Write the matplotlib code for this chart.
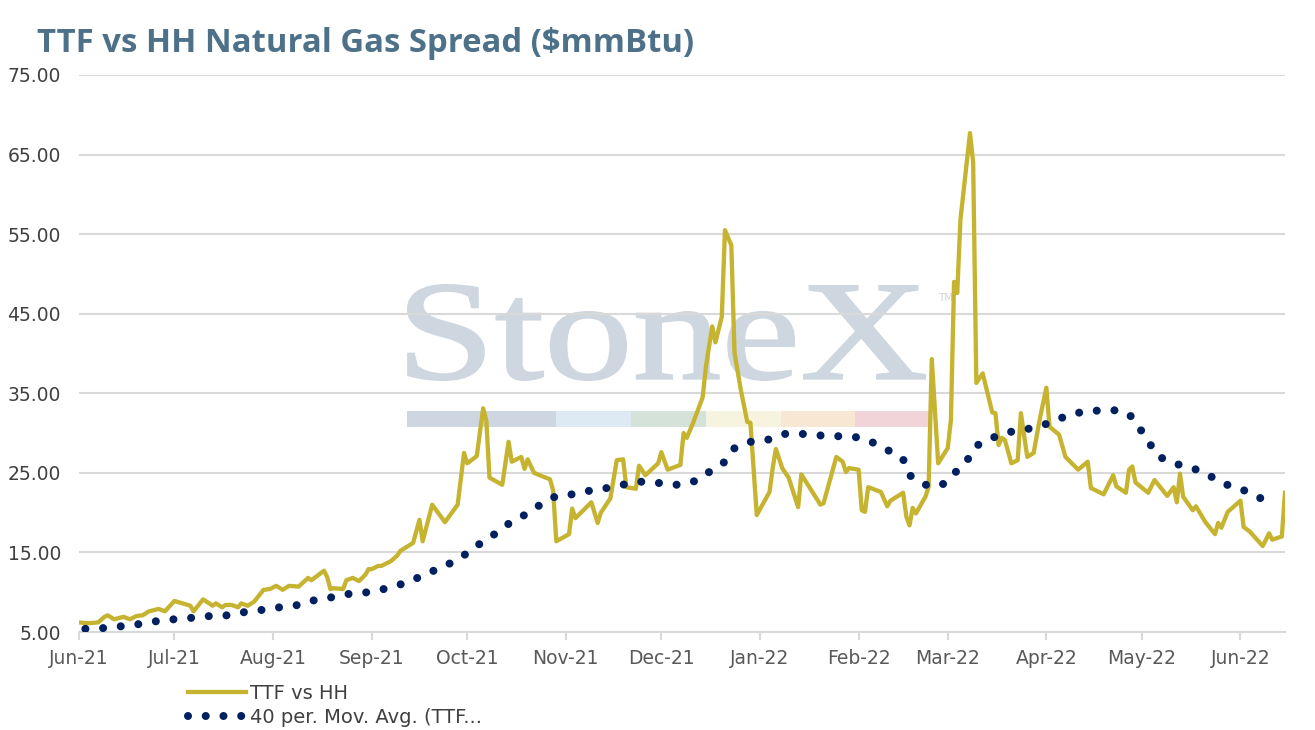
import numpy as np
import pandas as pd
import matplotlib
matplotlib.use("Agg")
import matplotlib.pyplot as plt
import matplotlib.dates as mdates
from matplotlib.textpath import TextPath
from matplotlib.patches import PathPatch, Rectangle
from matplotlib.font_manager import FontProperties
from matplotlib.transforms import Affine2D

# TTF vs HH spread
spread_dates = [
    "2021-06-01", "2021-06-04", "2021-06-07", "2021-06-09", "2021-06-10", "2021-06-12",
    "2021-06-15", "2021-06-17", "2021-06-19", "2021-06-21", "2021-06-23", "2021-06-26",
    "2021-06-28", "2021-07-01", "2021-07-06", "2021-07-07", "2021-07-10", "2021-07-13",
    "2021-07-14", "2021-07-16", "2021-07-17", "2021-07-19", "2021-07-21", "2021-07-22",
    "2021-07-24", "2021-07-26", "2021-07-29", "2021-07-31", "2021-08-02", "2021-08-04",
    "2021-08-06", "2021-08-09", "2021-08-12", "2021-08-13", "2021-08-17", "2021-08-18",
    "2021-08-19", "2021-08-20", "2021-08-23", "2021-08-24", "2021-08-26", "2021-08-28",
    "2021-08-30", "2021-08-31", "2021-09-01", "2021-09-03", "2021-09-04", "2021-09-07",
    "2021-09-09", "2021-09-10", "2021-09-14", "2021-09-16", "2021-09-17", "2021-09-20",
    "2021-09-24", "2021-09-28", "2021-09-30", "2021-10-01", "2021-10-04", "2021-10-06",
    "2021-10-07", "2021-10-08", "2021-10-12", "2021-10-14", "2021-10-15", "2021-10-18",
    "2021-10-19", "2021-10-20", "2021-10-22", "2021-10-25", "2021-10-27", "2021-10-28",
    "2021-10-29", "2021-11-02", "2021-11-03", "2021-11-04", "2021-11-09", "2021-11-11",
    "2021-11-12", "2021-11-15", "2021-11-17", "2021-11-19", "2021-11-20", "2021-11-23",
    "2021-11-24", "2021-11-26", "2021-11-30", "2021-12-01", "2021-12-03", "2021-12-07",
    "2021-12-08", "2021-12-09", "2021-12-11", "2021-12-14", "2021-12-15", "2021-12-17",
    "2021-12-18", "2021-12-20", "2021-12-21", "2021-12-23", "2021-12-24", "2021-12-26",
    "2021-12-28", "2021-12-29", "2021-12-31", "2022-01-04", "2022-01-05", "2022-01-06",
    "2022-01-08", "2022-01-10", "2022-01-13", "2022-01-14", "2022-01-20", "2022-01-21",
    "2022-01-25", "2022-01-27", "2022-01-28", "2022-01-29", "2022-02-01", "2022-02-02",
    "2022-02-03", "2022-02-04", "2022-02-08", "2022-02-10", "2022-02-11", "2022-02-15",
    "2022-02-16", "2022-02-17", "2022-02-18", "2022-02-19", "2022-02-22", "2022-02-23",
    "2022-02-24", "2022-02-26", "2022-03-01", "2022-03-02", "2022-03-03", "2022-03-04",
    "2022-03-05", "2022-03-08", "2022-03-09", "2022-03-10", "2022-03-12", "2022-03-15",
    "2022-03-16", "2022-03-17", "2022-03-18", "2022-03-19", "2022-03-21", "2022-03-23",
    "2022-03-24", "2022-03-26", "2022-03-28", "2022-03-30", "2022-04-01", "2022-04-02",
    "2022-04-05", "2022-04-07", "2022-04-11", "2022-04-14", "2022-04-15", "2022-04-19",
    "2022-04-22", "2022-04-23", "2022-04-26", "2022-04-27", "2022-04-28", "2022-04-29",
    "2022-05-03", "2022-05-05", "2022-05-09", "2022-05-11", "2022-05-12", "2022-05-13",
    "2022-05-14", "2022-05-17", "2022-05-18", "2022-05-21", "2022-05-24", "2022-05-25",
    "2022-05-26", "2022-05-28", "2022-06-01", "2022-06-02", "2022-06-04", "2022-06-06",
    "2022-06-08", "2022-06-10", "2022-06-11", "2022-06-14", "2022-06-15",
]
spread_values = [
    6.2, 6.1, 6.2, 6.9, 7.1, 6.6,
    6.9, 6.6, 7.0, 7.1, 7.6, 7.9,
    7.6, 8.9, 8.3, 7.6, 9.1, 8.3,
    8.6, 8.1, 8.4, 8.4, 8.1, 8.6,
    8.3, 8.8, 10.3, 10.4, 10.8, 10.3,
    10.8, 10.7, 11.8, 11.5, 12.7, 11.9,
    10.4, 10.5, 10.4, 11.5, 11.8, 11.4,
    12.2, 12.9, 12.9, 13.3, 13.3, 13.9,
    14.6, 15.2, 16.2, 19.1, 16.4, 21.0,
    18.8, 21.0, 27.5, 26.2, 27.1, 33.1,
    31.6, 24.4, 23.5, 28.9, 26.4, 27.0,
    25.5, 26.7, 25.0, 24.5, 24.2, 22.8,
    16.4, 17.3, 20.5, 19.3, 21.3, 18.7,
    20.0, 21.8, 26.6, 26.7, 23.2, 23.0,
    25.9, 24.7, 26.2, 27.6, 25.4, 26.0,
    30.0, 29.4, 31.3, 34.5, 38.3, 43.4,
    41.4, 44.6, 55.5, 53.6, 40.1, 35.4,
    31.4, 31.3, 19.7, 22.6, 25.6, 28.0,
    25.6, 24.4, 20.7, 24.8, 21.0, 21.2,
    27.0, 26.4, 25.1, 25.6, 25.4, 20.3,
    20.1, 23.2, 22.6, 20.8, 21.5, 22.5,
    19.5, 18.4, 20.6, 19.9, 22.0, 23.2,
    39.3, 26.2, 28.1, 31.6, 49.0, 47.6,
    56.8, 67.7, 64.0, 36.3, 37.5, 32.6,
    32.5, 28.5, 29.4, 29.1, 26.2, 26.6,
    32.5, 27.0, 27.5, 31.9, 35.7, 30.8,
    29.8, 27.0, 25.4, 26.4, 23.1, 22.3,
    24.7, 23.3, 22.5, 25.4, 25.8, 23.8,
    22.5, 24.1, 22.1, 23.2, 21.3, 24.9,
    22.0, 20.3, 20.8, 18.8, 17.3, 18.7,
    18.1, 20.1, 21.5, 18.2, 17.6, 16.7,
    15.8, 17.4, 16.6, 17.0, 22.5,
]

# 40 period moving average
ma_dates = [
    "2021-06-03", "2021-06-09", "2021-06-15", "2021-06-20", "2021-06-26", "2021-07-01",
    "2021-07-07", "2021-07-12", "2021-07-18", "2021-07-23", "2021-07-29", "2021-08-03",
    "2021-08-09", "2021-08-14", "2021-08-20", "2021-08-25", "2021-08-31", "2021-09-06",
    "2021-09-11", "2021-09-16", "2021-09-21", "2021-09-26", "2021-10-01", "2021-10-05",
    "2021-10-10", "2021-10-14", "2021-10-19", "2021-10-24", "2021-10-29", "2021-11-03",
    "2021-11-09", "2021-11-14", "2021-11-20", "2021-11-25", "2021-12-01", "2021-12-06",
    "2021-12-12", "2021-12-16", "2021-12-21", "2021-12-24", "2021-12-29", "2022-01-03",
    "2022-01-09", "2022-01-14", "2022-01-20", "2022-01-26", "2022-01-31", "2022-02-05",
    "2022-02-10", "2022-02-15", "2022-02-17", "2022-02-22", "2022-02-27", "2022-03-03",
    "2022-03-07", "2022-03-10", "2022-03-15", "2022-03-20", "2022-03-26", "2022-03-31",
    "2022-04-05", "2022-04-10", "2022-04-16", "2022-04-22", "2022-04-27", "2022-04-30",
    "2022-05-03", "2022-05-06", "2022-05-11", "2022-05-17", "2022-05-22", "2022-05-27",
    "2022-06-01", "2022-06-06", "2022-06-11",
]
ma_values = [
    5.4, 5.5, 5.75, 6.0, 6.4, 6.6,
    6.8, 7.0, 7.1, 7.5, 7.8, 8.1,
    8.4, 9.0, 9.4, 9.8, 10.0, 10.5,
    11.1, 11.9, 12.8, 13.7, 14.9, 16.1,
    17.4, 18.6, 19.7, 21.0, 22.1, 22.3,
    22.8, 23.1, 23.6, 23.9, 23.7, 23.5,
    24.0, 25.1, 26.4, 28.1, 28.9, 29.1,
    29.9, 29.9, 29.7, 29.6, 29.5, 28.9,
    27.9, 26.7, 24.7, 23.5, 23.4, 24.9,
    26.5, 28.4, 29.4, 30.1, 30.5, 31.0,
    31.8, 32.5, 32.8, 32.9, 32.4, 30.8,
    29.0, 27.1, 26.2, 25.6, 24.7, 23.6,
    23.0, 22.1, 21.0,
]

y_ticks = [5, 15, 25, 35, 45, 55, 65, 75]
title = "TTF vs HH Natural Gas Spread ($mmBtu)"

W, H = 1315, 730
fig = plt.figure(figsize=(W / 100, H / 100), dpi=100, facecolor="white")
ax = fig.add_axes([79 / W, 1 - 632 / H, (1285 - 79) / W, (632 - 75) / H])
ax.set_facecolor("none")

# StoneX watermark (text stretched into its box) + colour bar
fp = FontProperties(family="Liberation Serif")
tp = TextPath((0, 0), "StoneX", size=100, prop=fp)
ext = tp.get_extents()
x0, x1, ytop, ybot = 408, 925, 285, 380
tr = (Affine2D().translate(-ext.x0, -ext.y0)
      .scale((x1 - x0) / ext.width / W, (ybot - ytop) / ext.height / H)
      .translate(x0 / W, 1 - ybot / H) + fig.transFigure)
fig.patches.append(PathPatch(tp, transform=tr, facecolor="#CED6DF", edgecolor="#CED6DF",
                             lw=1.5, zorder=-5))
fig.text(938 / W, 1 - 298 / H, "TM", fontsize=7.5, color="#CED6DF", va="center", zorder=-5)
bar_edges = [407, 556, 631, 706, 781, 855, 931]
bar_colors = ["#CED7E1", "#DDE9F3", "#D5E2D9", "#F6F4DE", "#F8E7D3", "#F0D4D7"]
for i, c in enumerate(bar_colors):
    fig.patches.append(Rectangle((bar_edges[i] / W, 1 - 427 / H),
                                 (bar_edges[i + 1] - bar_edges[i]) / W, 16 / H,
                                 transform=fig.transFigure, facecolor=c,
                                 edgecolor="none", zorder=-5))

d_spread = pd.to_datetime(spread_dates)
d_ma = pd.to_datetime(ma_dates)

ax.plot(d_spread, spread_values, color="#C6B431", lw=3.1, solid_joinstyle="round",
        label="TTF vs HH", zorder=3)
ax.plot(d_ma, ma_values, color="#002060", lw=5.8, linestyle=(0, (0.001, 2.2)),
        dash_capstyle="round", label="40 per. Mov. Avg. (TTF...", zorder=4)

ax.set_ylim(5, 75)
ax.set_yticks(y_ticks)
ax.yaxis.set_major_formatter(plt.FuncFormatter(lambda v, p: "%.2f" % v))
ax.set_xlim(pd.Timestamp("2021-06-01"), pd.Timestamp("2022-06-15"))
ax.xaxis.set_major_locator(mdates.MonthLocator())
ax.xaxis.set_major_formatter(mdates.DateFormatter("%b-%y"))

ax.grid(axis="y", color="#D9D9D9", lw=1.5, zorder=0)
ax.set_axisbelow(True)
for s in ["top", "right", "left"]:
    ax.spines[s].set_visible(False)
ax.spines["bottom"].set_color("#D9D9D9")
ax.spines["bottom"].set_linewidth(1.5)
ax.tick_params(axis="y", length=0, pad=13, labelsize=13.5, labelcolor="#404040")
ax.tick_params(axis="x", length=6, width=1.5, color="#D9D9D9", pad=6,
               labelsize=13.5, labelcolor="#595959")

fig.text(37 / W, 1 - 43 / H, title, fontsize=23.7, fontweight="bold", color="#4D7189",
         family="Open Sans", va="center", ha="left")

fig.legend(loc="upper left", bbox_to_anchor=(180 / W, 1 - 676 / H), frameon=False,
           prop=FontProperties(family="DejaVu Sans", size=14), handlelength=3.0,
           handletextpad=0.2, labelspacing=0.25, borderaxespad=0, labelcolor="#404040")

fig.savefig("out.png", dpi=100, facecolor="white")
